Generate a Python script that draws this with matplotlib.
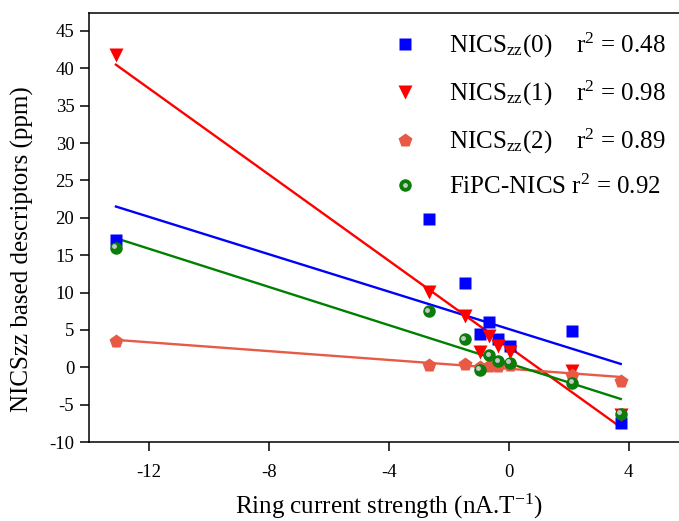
import numpy as np
import matplotlib
matplotlib.use('Agg')
import matplotlib.pyplot as plt
import matplotlib.transforms as mtransforms
from matplotlib.legend_handler import HandlerTuple

plt.rcParams['font.family'] = 'Liberation Serif'
plt.rcParams['mathtext.fontset'] = 'custom'
plt.rcParams['mathtext.rm'] = 'Liberation Serif'
plt.rcParams['mathtext.it'] = 'Liberation Serif:italic'
plt.rcParams['axes.unicode_minus'] = False

# ring current strength (nA/T) of the 9 rings
ring_current = [-13.1, -2.67, -1.47, -0.95, -0.64, -0.34, 0.04, 2.13, 3.74]
nics0 = [17.0, 19.9, 11.3, 4.4, 6.1, 3.75, 2.85, 4.8, -7.4]
nics1 = [41.8, 10.1, 6.8, 2.05, 4.2, 2.85, 2.05, -0.5, -6.4]
nics2 = [3.5, 0.35, 0.4, 0.1, 0.2, 0.2, 0.25, -1.05, -1.8]
fipc = [16.0, 7.5, 3.75, -0.3, 1.6, 0.85, 0.6, -2.05, -6.2]

labels = ['NICS$_{\\mathrm{zz}}$(0)    r$^{2}$ = 0.48',
          'NICS$_{\\mathrm{zz}}$(1)    r$^{2}$ = 0.98',
          'NICS$_{\\mathrm{zz}}$(2)    r$^{2}$ = 0.89',
          'FiPC-NICS r$^{2}$ = 0.92']

fig = plt.figure(figsize=(6.79, 5.21), dpi=100)
ax = fig.add_axes([0.131, 0.1516, 0.883, 0.8234])

x = np.array(ring_current)

def fit_line(y, color):
    k, b = np.polyfit(x, y, 1)
    xx = np.array([x.min(), x.max()])
    ax.plot(xx, k * xx + b, color=color, lw=1.7, zorder=2)

fit_line(nics0, '#0000FF')
fit_line(nics1, '#FF0000')
fit_line(nics2, '#E65A46')
fit_line(fipc, '#008000')

h0, = ax.plot(x, nics0, 's', color='#0000FF', ms=8, mec='none', zorder=3)
h1, = ax.plot(x, nics1, 'v', color='#FF0000', ms=10, mec='none', zorder=3)
h2, = ax.plot(x, nics2, 'p', color='#E65A46', ms=10.5, mec='none', zorder=3)
h3, = ax.plot(x, fipc, 'o', color='#0A7D0A', ms=9, mec='none', zorder=4)
# little grey highlight to get the ball look
shift = mtransforms.offset_copy(ax.transData, fig=fig, x=-1.2, y=1.0, units='points')
h3b, = ax.plot(x, fipc, 'o', color='#C8C8C8', ms=3.5, mec='none', zorder=5, transform=shift)

ax.set_xlim(-14, 6)
ax.set_ylim(-10, 47.4)
ax.set_xticks([-12, -8, -4, 0, 4])
ax.set_yticks(range(-10, 46, 5))
ax.tick_params(direction='out', length=6.5, width=1.1, labelsize=13.5)
ax.tick_params(axis='x', pad=9)
ax.tick_params(axis='y', pad=4)
for s in ax.spines.values():
    s.set_linewidth(1.1)

ax.set_xlabel('Ring current strength (nA.T$^{\\mathrm{-1}}$)', fontsize=18, labelpad=8)
ax.set_ylabel('NICSzz based descriptors (ppm)', fontsize=18)
ax.yaxis.set_label_coords(-0.092, 0.45)

ax.legend([h0, h1, h2, (h3, h3b)], labels, loc='upper left',
          bbox_to_anchor=(0.578, 0.94), bbox_transform=fig.transFigure,
          frameon=False, fontsize=18, handlelength=1.0, handletextpad=1.25,
          borderpad=0, borderaxespad=0, labelspacing=0.75,
          handler_map={tuple: HandlerTuple(ndivide=1)})

fig.savefig('out.png', dpi=100)
